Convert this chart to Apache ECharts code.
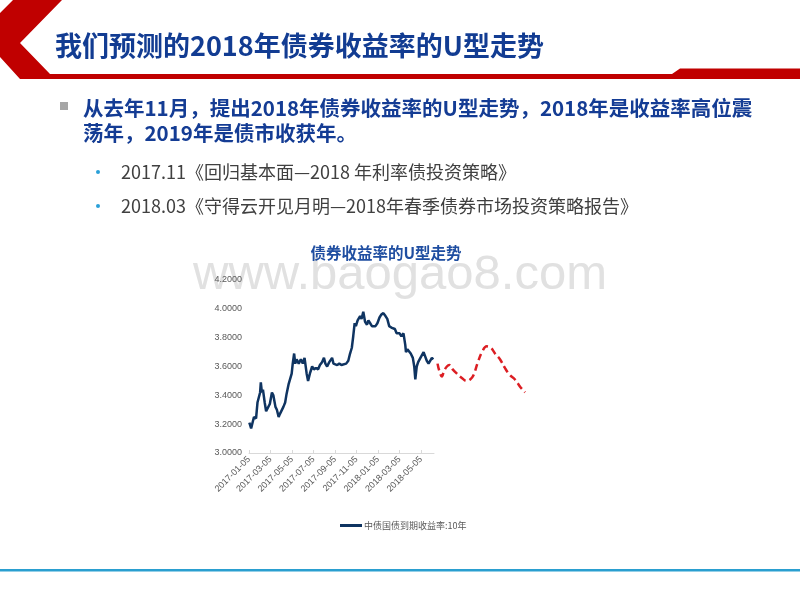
<!DOCTYPE html>
<html>
<head>
<meta charset="utf-8">
<script src="https://cdn.jsdelivr.net/npm/echarts@6/dist/echarts.min.js"></script>
<style>html,body{margin:0;padding:0;background:#fff}#c{width:800px;height:600px}</style>
</head>
<body>
<div id="c"></div>
<script>
// ---- data ----
const slideTitle = '我们预测的2018年债券收益率的U型走势';
const bulletLines = ['从去年11月，提出2018年债券收益率的U型走势，2018年是收益率高位震', '荡年，2019年是债市收获年。'];
const subBullets = ['2017.11《回归基本面—2018 年利率债投资策略》', '2018.03《守得云开见月明—2018年春季债券市场投资策略报告》'];
const chartTitle = '债券收益率的U型走势';
const seriesName = '中债国债到期收益率:10年';
const watermark = 'www.baogao8.com';

const xTickLabels = ['2017-01-05','2017-03-05','2017-05-05','2017-07-05','2017-09-05','2017-11-05','2018-01-05','2018-03-05','2018-05-05'];
const axisEndDate = '2018-06-11';
const yTicks = [3.0, 3.2, 3.4, 3.6, 3.8, 4.0, 4.2];

const yieldDates = ['2017-01-06','2017-01-11','2017-01-19','2017-01-25','2017-01-29','2017-02-06','2017-02-08','2017-02-11','2017-02-14','2017-02-19','2017-02-23','2017-02-27','2017-03-03','2017-03-09','2017-03-13','2017-03-19','2017-03-23','2017-03-28','2017-04-01','2017-04-11','2017-04-16','2017-04-20','2017-04-26','2017-04-29','2017-05-04','2017-05-07','2017-05-11','2017-05-14','2017-05-18','2017-05-24','2017-05-30','2017-06-05','2017-06-10','2017-06-16','2017-06-20','2017-06-25','2017-07-01','2017-07-06','2017-07-12','2017-07-18','2017-07-23','2017-07-29','2017-08-04','2017-08-08','2017-08-13','2017-08-19','2017-08-27','2017-08-31','2017-09-06','2017-09-11','2017-09-17','2017-09-23','2017-09-28','2017-10-06','2017-10-12','2017-10-17','2017-10-22','2017-10-26','2017-10-30','2017-11-03','2017-11-08','2017-11-15','2017-11-19','2017-11-24','2017-11-29','2017-12-04','2017-12-08','2017-12-13','2017-12-18','2017-12-22','2017-12-28','2018-01-03','2018-01-09','2018-01-14','2018-01-20','2018-01-26','2018-01-31','2018-02-06','2018-02-12','2018-02-17','2018-02-22','2018-02-27','2018-03-05','2018-03-10','2018-03-16','2018-03-21','2018-03-23','2018-03-27','2018-04-02','2018-04-06','2018-04-12','2018-04-16','2018-04-19','2018-04-23','2018-04-27','2018-05-03','2018-05-06','2018-05-12','2018-05-17','2018-05-21','2018-05-26','2018-05-31','2018-06-05','2018-06-09'];
const yieldValues = [3.21,3.17,3.25,3.24,3.35,3.42,3.49,3.42,3.44,3.35,3.29,3.28,3.34,3.42,3.40,3.32,3.30,3.25,3.27,3.32,3.35,3.41,3.48,3.48,3.55,3.62,3.69,3.62,3.65,3.62,3.65,3.62,3.66,3.55,3.50,3.55,3.60,3.58,3.59,3.58,3.61,3.63,3.66,3.62,3.60,3.63,3.66,3.62,3.63,3.61,3.62,3.61,3.62,3.62,3.64,3.69,3.73,3.81,3.90,3.88,3.92,3.95,3.93,3.98,3.91,3.89,3.92,3.90,3.88,3.89,3.88,3.90,3.94,3.96,3.97,3.95,3.93,3.88,3.87,3.87,3.86,3.83,3.83,3.81,3.83,3.75,3.70,3.72,3.72,3.69,3.66,3.60,3.51,3.60,3.63,3.66,3.67,3.70,3.69,3.64,3.62,3.61,3.66,3.65];

const forecastDates = ['2018-06-21','2018-06-26','2018-07-03','2018-07-09','2018-07-17','2018-07-24','2018-08-03','2018-08-15','2018-08-29','2018-09-12','2018-09-22','2018-10-01','2018-10-12','2018-10-25','2018-11-08','2018-11-20','2018-12-01','2018-12-15','2018-12-29','2019-01-13','2019-01-27','2019-02-11','2019-02-25'];
const forecastValues = [3.62,3.57,3.53,3.57,3.60,3.61,3.58,3.55,3.52,3.50,3.51,3.54,3.62,3.70,3.74,3.73,3.69,3.65,3.59,3.54,3.51,3.46,3.42];

// ---- helpers ----
function monthOffset(s) {
  const p = s.split('-').map(Number);
  return (p[0] - 2017) * 12 + (p[1] - 1) + (p[2] - 5) / 30.44;
}
const tickPos = xTickLabels.map(monthOffset);
const labelByPos = {};
tickPos.forEach((v, i) => { labelByPos[v.toFixed(3)] = xTickLabels[i]; });
const xMax = monthOffset(axisEndDate);

const G = { left: 249, top: 280, width: 185, height: 173 };
const G2w = 300;
const xMax2 = xMax * G2w / G.width;

const chart = echarts.init(document.getElementById('c'), null, { renderer: 'canvas' });
const cjk = '"Noto Sans CJK SC", "Noto Sans", sans-serif';
const sans = '"Liberation Sans", Arial, "Noto Sans CJK SC", sans-serif';

chart.setOption({
  backgroundColor: '#ffffff',
  animation: false,
  grid: [
    { left: G.left, top: G.top, width: G.width, height: G.height },
    { left: G.left, top: G.top, width: G2w, height: G.height }
  ],
  xAxis: [
    {
      type: 'value', gridIndex: 0, min: 0, max: xMax,
      axisLine: { show: true, lineStyle: { color: '#d9d9d9', width: 1 } },
      axisTick: { show: true, inside: true, length: 3, customValues: tickPos, lineStyle: { color: '#d9d9d9' } },
      axisLabel: {
        customValues: tickPos, rotate: 45, margin: 5, fontSize: 9, color: '#595959', fontFamily: sans,
        formatter: v => labelByPos[Number(v).toFixed(3)] || ''
      },
      splitLine: { show: false }
    },
    { type: 'value', gridIndex: 1, min: 0, max: xMax2, show: false, splitLine: { show: false } }
  ],
  yAxis: [
    {
      type: 'value', gridIndex: 0, min: yTicks[0], max: yTicks[yTicks.length - 1], interval: 0.2,
      axisLine: { show: false }, axisTick: { show: false }, splitLine: { show: false },
      axisLabel: { fontSize: 9, color: '#595959', fontFamily: sans, margin: 7, formatter: v => v.toFixed(4) }
    },
    { type: 'value', gridIndex: 1, min: yTicks[0], max: yTicks[yTicks.length - 1], show: false, splitLine: { show: false } }
  ],
  legend: {
    data: [seriesName], left: 335, top: 516, icon: 'rect', itemWidth: 22, itemHeight: 3, itemGap: 4,
    textStyle: { fontSize: 9, color: '#595959', fontFamily: cjk, padding: [0, 0, 0, -3] }
  },
  series: [
    {
      name: seriesName, type: 'line', xAxisIndex: 0, yAxisIndex: 0, showSymbol: false, symbol: 'none',
      data: yieldDates.map((d, i) => [monthOffset(d), yieldValues[i]]),
      lineStyle: { color: '#0f3461', width: 2.5 }, itemStyle: { color: '#0f3461' }, z: 5
    },
    {
      name: '预测', type: 'line', xAxisIndex: 1, yAxisIndex: 1, showSymbol: false, symbol: 'none', smooth: 0.4,
      data: forecastDates.map((d, i) => [monthOffset(d), forecastValues[i]]),
      lineStyle: { color: '#dc1e23', width: 2.5, type: [7, 4] }, z: 5
    }
  ],
  graphic: [
    { type: 'text', z: -10, style: { text: watermark, x: 400, y: 300, textAlign: 'center', textVerticalAlign: 'bottom', font: '49px "Liberation Sans", Arial, sans-serif', fill: '#e1e1e1' } },
    { type: 'polygon', z: 1, shape: { points: [[13,0],[62,0],[20,43],[50,74],[672,74],[680,68.5],[800,68.5],[800,79],[20,79],[0,57],[0,13]] }, style: { fill: '#c00000' } },
    { type: 'text', z: 2, style: { text: slideTitle, x: 55, y: 46, textVerticalAlign: 'middle', font: 'bold 27px ' + cjk, fill: '#123c92' } },
    { type: 'rect', z: 2, shape: { x: 60, y: 102, width: 8, height: 8 }, style: { fill: '#a6a6a6' } },
    { type: 'text', z: 2, style: { text: bulletLines[0], x: 83, y: 108, textVerticalAlign: 'middle', font: 'bold 20.5px ' + cjk, fill: '#143c94' } },
    { type: 'text', z: 2, style: { text: bulletLines[1], x: 83, y: 133, textVerticalAlign: 'middle', font: 'bold 20.5px ' + cjk, fill: '#143c94' } },
    { type: 'circle', z: 2, shape: { cx: 98, cy: 172, r: 2 }, style: { fill: '#2aa0d8' } },
    { type: 'text', z: 2, style: { text: subBullets[0], x: 121, y: 172, textVerticalAlign: 'middle', font: '18px ' + cjk, fill: '#404040' } },
    { type: 'circle', z: 2, shape: { cx: 98, cy: 206, r: 2 }, style: { fill: '#2aa0d8' } },
    { type: 'text', z: 2, style: { text: subBullets[1], x: 121, y: 206, textVerticalAlign: 'middle', font: '18px ' + cjk, fill: '#404040' } },
    { type: 'text', z: 2, style: { text: chartTitle, x: 386, y: 253, textAlign: 'center', textVerticalAlign: 'middle', font: 'bold 15.5px ' + cjk, fill: '#1f4ea1' } },
    { type: 'rect', z: 2, shape: { x: 0, y: 569, width: 800, height: 2.5 }, style: { fill: '#2a9fd0' } }
  ]
});
</script>
</body>
</html>
